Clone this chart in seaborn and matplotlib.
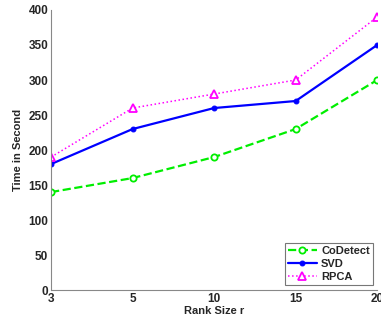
import numpy as np
import pandas as pd
import matplotlib
matplotlib.use("Agg")
import matplotlib.pyplot as plt
import seaborn as sns

# Data
rank_labels = ["3", "5", "10", "15", "20"]
codetect = [140, 160, 190, 230, 300]
svd = [180, 230, 260, 270, 350]
rpca = [190, 260, 280, 300, 390]

sns.set_style("white")
plt.rcParams["font.family"] = ["Liberation Sans", "DejaVu Sans"]
plt.rcParams["font.weight"] = "bold"

fig = plt.figure(figsize=(3.81, 3.22), dpi=100)
ax = fig.add_axes([0.134, 0.099, 0.856, 0.870])

pos = np.arange(len(rank_labels))
sns.lineplot(x=pos, y=codetect, ax=ax, color="#00ee00", linestyle="--", linewidth=1.6,
             marker="o", markersize=4.5, markerfacecolor="white", markeredgecolor="#00ee00",
             markeredgewidth=1.3, label="CoDetect")
sns.lineplot(x=pos, y=svd, ax=ax, color="#0000ff", linestyle="-", linewidth=1.6,
             marker="o", markersize=3.5, markerfacecolor="#0000ff", markeredgecolor="#0000ff",
             label="SVD")
sns.lineplot(x=pos, y=rpca, ax=ax, color="#ff00ff", linestyle=":", linewidth=1.1,
             marker="^", markersize=5.5, markerfacecolor="white", markeredgecolor="#ff00ff",
             markeredgewidth=1.3, label="RPCA")

ax.set_xlim(0, len(rank_labels) - 1)
ax.set_ylim(0, 400)
ax.set_xticks(pos)
ax.set_xticklabels(rank_labels)
ax.set_yticks(range(0, 401, 50))
ax.tick_params(direction="in", length=3, labelsize=8.5, color="#666666", pad=2)
for lbl in ax.get_xticklabels() + ax.get_yticklabels():
    lbl.set_fontweight("bold")

for side in ["top", "right"]:
    ax.spines[side].set_visible(False)
for side in ["left", "bottom"]:
    ax.spines[side].set_color("#888888")
    ax.spines[side].set_linewidth(0.8)

ax.set_xlabel("Rank Size r", fontsize=8, fontweight="bold", labelpad=1)
ax.set_ylabel("Time in Second", fontsize=8, fontweight="bold", labelpad=4)

leg = ax.legend(loc="lower right", bbox_to_anchor=(0.988, 0.018), borderaxespad=0,
                fontsize=8, frameon=True, fancybox=False, handlelength=2.6,
                borderpad=0.3, labelspacing=0.25, handletextpad=0.4)
leg.get_frame().set_edgecolor("#555555")
leg.get_frame().set_linewidth(0.8)
for t in leg.get_texts():
    t.set_fontweight("bold")

fig.savefig("out.png", dpi=100)
